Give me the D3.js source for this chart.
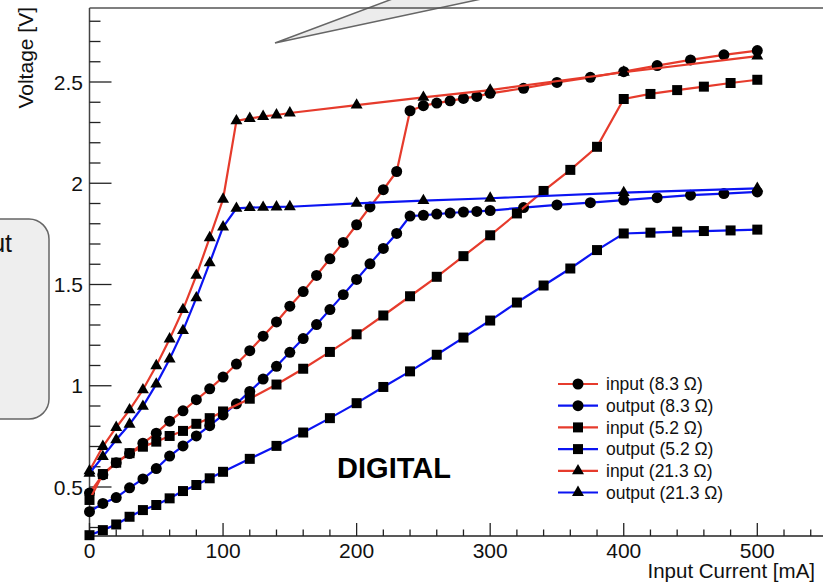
<!DOCTYPE html>
<html>
<head>
<meta charset="utf-8">
<script src="https://cdn.jsdelivr.net/npm/d3@7"></script>
<style>
  html, body { margin: 0; padding: 0; background: #fff; }
  svg { display: block; font-family: "Liberation Sans", Arial, Helvetica, sans-serif; }
</style>
</head>
<body>
<svg id="chart" width="823" height="587"></svg>
<script>
// Load current [mA] for each load resistance
const current83 = [0,10,20,30,40,50,60,70,80,90,100,110,120,130,140,150,160,170,180,190,200,210,220,230,240,250,260,270,280,290,300,325,350,375,400,425,450,475,500];
const current52 = [0,10,20,30,40,50,60,70,80,90,100,120,140,160,180,200,220,240,260,280,300,320,340,360,380,400,420,440,460,480,500];
const current213 = [0,10,20,30,40,50,60,70,80,90,100,110,120,130,140,150,200,250,300,400,500];

// Measured voltages [V]
const input83 = [0.47,0.56,0.62,0.665,0.716,0.766,0.825,0.876,0.931,0.985,1.043,1.107,1.173,1.245,1.315,1.393,1.465,1.545,1.627,1.708,1.795,1.883,1.968,2.058,2.358,2.383,2.396,2.407,2.419,2.429,2.444,2.469,2.498,2.523,2.551,2.581,2.609,2.634,2.655];
const output83 = [0.378,0.419,0.448,0.496,0.54,0.591,0.653,0.703,0.752,0.803,0.856,0.911,0.972,1.033,1.096,1.165,1.233,1.302,1.376,1.45,1.525,1.602,1.678,1.752,1.838,1.842,1.848,1.853,1.858,1.861,1.865,1.88,1.893,1.904,1.917,1.929,1.941,1.949,1.957];
const input52 = [0.436,0.564,0.62,0.667,0.699,0.724,0.752,0.777,0.812,0.84,0.873,0.936,1.006,1.084,1.167,1.254,1.347,1.442,1.538,1.64,1.743,1.851,1.962,2.066,2.18,2.416,2.441,2.46,2.477,2.495,2.511];
const output52 = [0.262,0.287,0.315,0.353,0.386,0.411,0.444,0.48,0.51,0.543,0.575,0.639,0.703,0.769,0.84,0.914,0.994,1.071,1.153,1.238,1.322,1.411,1.495,1.579,1.67,1.752,1.756,1.761,1.764,1.767,1.771];
const input213 = [0.58,0.70,0.794,0.881,0.98,1.099,1.231,1.376,1.545,1.731,1.921,2.308,2.32,2.33,2.337,2.347,2.386,2.424,2.46,2.548,2.628];
const output213 = [0.568,0.65,0.733,0.81,0.898,1.008,1.132,1.272,1.434,1.607,1.784,1.876,1.88,1.881,1.883,1.884,1.901,1.914,1.926,1.954,1.975];

const seriesLabels = ["input (8.3 \u03A9)","output (8.3 \u03A9)","input (5.2 \u03A9)","output (5.2 \u03A9)","input (21.3 \u03A9)","output (21.3 \u03A9)"];
const xTicks = [0,100,200,300,400,500];
const yTicks = [0.5,1,1.5,2,2.5];

const RED = "#e63b2c", BLUE = "#0b14f2";
const series = [
  {label: seriesLabels[0], x: current83, y: input83, color: RED, marker: "circle"},
  {label: seriesLabels[1], x: current83, y: output83, color: BLUE, marker: "circle"},
  {label: seriesLabels[2], x: current52, y: input52, color: RED, marker: "square"},
  {label: seriesLabels[3], x: current52, y: output52, color: BLUE, marker: "square"},
  {label: seriesLabels[4], x: current213, y: input213, color: RED, marker: "triangle"},
  {label: seriesLabels[5], x: current213, y: output213, color: BLUE, marker: "triangle"}
];

const svg = d3.select("#chart");
const frame = {left: 89.5, top: 8, bottom: 536};

const x = d3.scaleLinear().domain([0, 550]).range([frame.left, frame.left + 550 * 1.3356]);
const y = d3.scaleLinear().domain([0.5, 2.5]).range([487, 82]);
const yMin = y.invert(frame.bottom), yMax = y.invert(frame.top);

// Decorative annotation shapes (callout pointer and side box)
svg.append("path")
  .attr("d", "M275,43 L395,-2 L486,-2 Z")
  .attr("fill", "#ececec").attr("stroke", "#666").attr("stroke-width", 1.5);

svg.append("rect")
  .attr("x", -40).attr("y", 219).attr("width", 89).attr("height", 200)
  .attr("rx", 20).attr("ry", 20)
  .attr("fill", "#eeeeee").attr("stroke", "#666").attr("stroke-width", 1.5);
svg.append("text")
  .attr("x", 12).attr("y", 252).attr("text-anchor", "end")
  .attr("font-size", 25).attr("fill", "#111").text("Output");

// Frame
svg.append("line").attr("x1", frame.left).attr("x2", 823).attr("y1", frame.top).attr("y2", frame.top)
  .attr("stroke", "#555").attr("stroke-width", 1.5);

// Y axis with ticks drawn inward
const yg = svg.append("g");
yg.append("line").attr("x1", frame.left).attr("x2", frame.left).attr("y1", frame.top).attr("y2", frame.bottom)
  .attr("stroke", "#444").attr("stroke-width", 1.5);
const yMinor = d3.range(Math.ceil(yMin * 10), Math.floor(yMax * 10) + 1).map(d => d / 10);
yg.selectAll("line.minor").data(yMinor).join("line")
  .attr("x1", frame.left).attr("x2", d => frame.left + (Math.abs(d * 2 - Math.round(d * 2)) < 1e-6 ? 22 : 11))
  .attr("y1", d => y(d)).attr("y2", d => y(d))
  .attr("stroke", "#222").attr("stroke-width", 1.3);
yg.selectAll("text").data(yTicks).join("text")
  .attr("x", 83).attr("y", d => y(d)).attr("dy", "0.36em")
  .attr("text-anchor", "end").attr("font-size", 21).attr("fill", "#111")
  .text(d => d3.format("")(d));

// X axis with ticks drawn inward
const xg = svg.append("g");
xg.append("line").attr("x1", frame.left).attr("x2", 823).attr("y1", frame.bottom).attr("y2", frame.bottom)
  .attr("stroke", "#222").attr("stroke-width", 1.5);
const xMinor = d3.range(0, 560, 20);
xg.selectAll("line.minor").data(xMinor).join("line")
  .attr("x1", d => x(d)).attr("x2", d => x(d))
  .attr("y1", frame.bottom).attr("y2", d => frame.bottom - (d % 100 === 0 ? 13 : 6.5))
  .attr("stroke", "#222").attr("stroke-width", 1.3);
xg.selectAll("text").data(xTicks).join("text")
  .attr("x", d => x(d)).attr("y", 558)
  .attr("text-anchor", "middle").attr("font-size", 21).attr("fill", "#111")
  .text(d => d);

// Axis titles
svg.append("text")
  .attr("x", 815).attr("y", 578).attr("text-anchor", "end")
  .attr("font-size", 20.5).attr("fill", "#111").text("Input Current [mA]");
svg.append("text")
  .attr("transform", "translate(33,7) rotate(-90)")
  .attr("text-anchor", "end").attr("font-size", 21).attr("fill", "#111").text("Voltage [V]");

// Marker shapes
const markerPath = {
  circle: d3.symbol(d3.symbolCircle, 95)(),
  square: d3.symbol(d3.symbolSquare, 100)(),
  triangle: d3.symbol(d3.symbolTriangle, 62)()
};

const line = d3.line().x(d => x(d[0])).y(d => y(d[1]));
const plot = svg.append("g");
series.forEach(s => {
  const pts = s.x.map((v, i) => [v, s.y[i]]);
  plot.append("path").datum(pts).attr("d", line)
    .attr("fill", "none").attr("stroke", s.color).attr("stroke-width", 2.2);
  plot.append("g").selectAll("path").data(pts).join("path")
    .attr("d", markerPath[s.marker])
    .attr("transform", d => `translate(${x(d[0])},${y(d[1])})`)
    .attr("fill", "#000");
});

// Label
svg.append("text")
  .attr("x", 394).attr("y", 478).attr("text-anchor", "middle")
  .attr("font-size", 29).attr("font-weight", "bold").attr("fill", "#000").text("DIGITAL");

// Legend
const lg = svg.append("g");
series.forEach((s, i) => {
  const cy = 384 + i * 21.7;
  lg.append("line").attr("x1", 558).attr("x2", 598).attr("y1", cy).attr("y2", cy)
    .attr("stroke", s.color).attr("stroke-width", 2.2);
  lg.append("path").attr("d", markerPath[s.marker])
    .attr("transform", `translate(578,${cy})`).attr("fill", "#000");
  lg.append("text").attr("x", 606).attr("y", cy).attr("dy", "0.36em")
    .attr("font-size", 17.5).attr("fill", "#111").text(s.label);
});
</script>
</body>
</html>
